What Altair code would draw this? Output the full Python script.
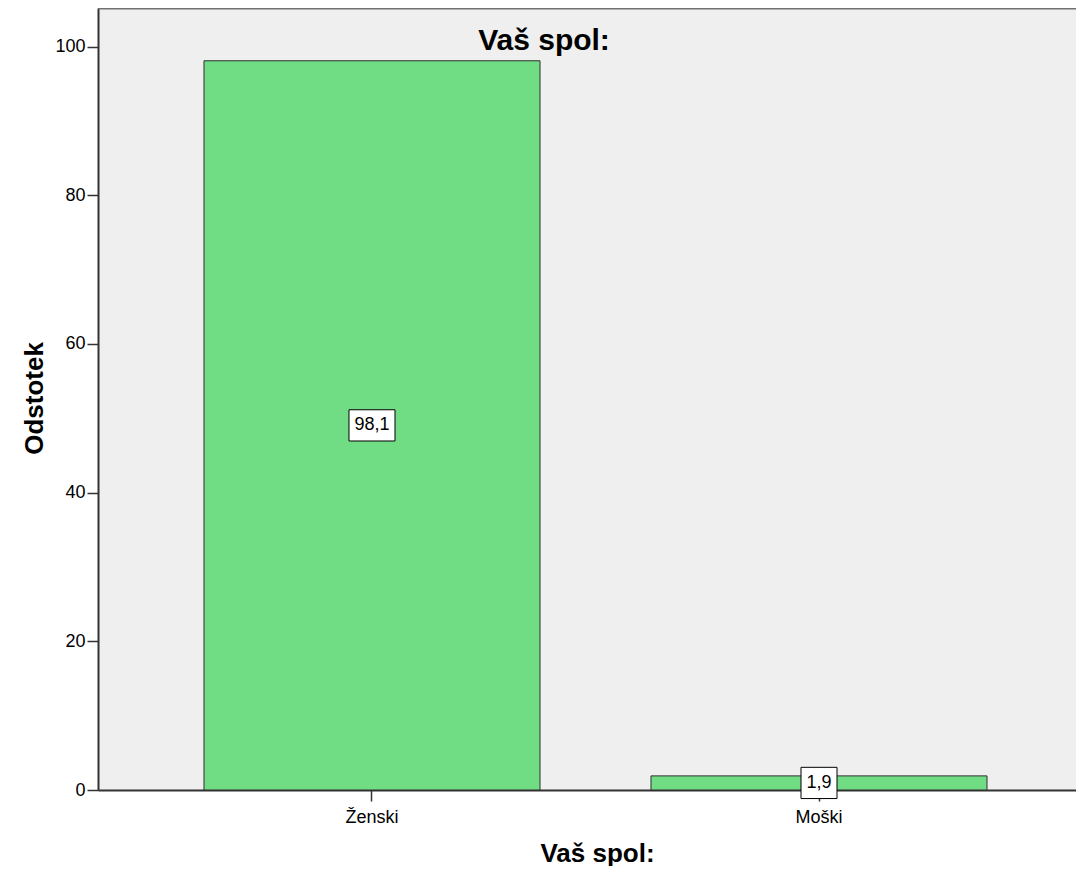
import altair as alt
import pandas as pd

# ---- data ----
categories = ["Ženski", "Moški"]
percents = [98.1, 1.9]
value_labels = ["98,1", "1,9"]
y_ticks = [0, 20, 40, 60, 80, 100]
chart_title = "Vaš spol:"
x_title = "Vaš spol:"
y_title = "Odstotek"

FONT = "Liberation Sans, Arial, sans-serif"
PLOT_W = 978
PLOT_H = 782

df = pd.DataFrame({"cat": categories, "pct": percents, "label": value_labels})

x_enc = alt.X(
    "cat:N",
    sort=categories,
    scale=alt.Scale(paddingInner=0.2483, paddingOuter=0.2181, align=0.5436),
    axis=alt.Axis(
        title=x_title,
        labelAngle=0,
        labelFont=FONT,
        labelFontSize=18,
        labelColor="#000000",
        labelPadding=7,
        tickSize=11,
        tickColor="#333333",
        tickWidth=1.5,
        domainColor="#333333",
        domainWidth=2,
        titleFont=FONT,
        titleFontSize=26,
        titleFontWeight="bold",
        titleColor="#000000",
        titleX=499,
        titleY=71,
        titleAlign="center",
        titleBaseline="alphabetic",
    ),
)

y_scale = alt.Scale(domain=[0, 105.2], nice=False, zero=True)

bars = alt.Chart(df).mark_bar(
    fill="#70dc84", stroke="#2e2e2e", strokeWidth=1
).encode(
    x=x_enc,
    y=alt.Y(
        "pct:Q",
        scale=y_scale,
        axis=alt.Axis(
            values=y_ticks,
            grid=False,
            title=y_title,
            labelFont=FONT,
            labelFontSize=18,
            labelColor="#000000",
            labelPadding=2,
            tickSize=11,
            tickColor="#333333",
            tickWidth=1.5,
            domainColor="#333333",
            domainWidth=2,
            titleFont=FONT,
            titleFontSize=26,
            titleFontWeight="bold",
            titleColor="#000000",
            titleAngle=270,
            titleX=-56,
            titleY=390,
            titleAlign="center",
            titleBaseline="alphabetic",
        ),
    ),
)

boxes = alt.Chart(df).transform_calculate(
    lo="datum.pct / 2 - 2.1",
    hi="datum.pct / 2 + 2.1",
    w="(length(datum.label) - 1) * 10 + 16",
).mark_bar(fill="white", stroke="#000000", strokeWidth=1).encode(
    x=alt.X("cat:N", sort=categories),
    y=alt.Y("lo:Q", scale=y_scale),
    y2="hi:Q",
    size=alt.Size("w:Q", scale=None, legend=None),
)

texts = alt.Chart(df).transform_calculate(
    mid="datum.pct / 2"
).mark_text(
    font=FONT, fontSize=18, color="#000000", baseline="middle", align="center"
).encode(
    x=alt.X("cat:N", sort=categories),
    y=alt.Y("mid:Q", scale=y_scale),
    text="label:N",
)

title_layer = alt.Chart(pd.DataFrame({"t": [chart_title]})).mark_text(
    font=FONT, fontSize=30, fontWeight="bold", color="#000000",
    align="center", baseline="alphabetic"
).encode(
    x=alt.value(446),
    y=alt.value(42),
    text="t:N",
)

top_border = alt.Chart(pd.DataFrame({"k": [0]})).mark_rule(
    color="#707070", strokeWidth=3
).encode(
    x=alt.value(0),
    x2=alt.value(PLOT_W),
    y=alt.value(0),
)

chart = alt.layer(bars, boxes, texts, title_layer, top_border).properties(
    width=PLOT_W,
    height=PLOT_H,
    autosize=alt.AutoSizeParams(type="none"),
    padding={"left": 90, "top": 0, "right": 0, "bottom": 76},
    background="white",
).configure_view(
    fill="#efefef", strokeWidth=0
)

chart.save("out.html", embed_options={"renderer": "svg", "actions": False})
